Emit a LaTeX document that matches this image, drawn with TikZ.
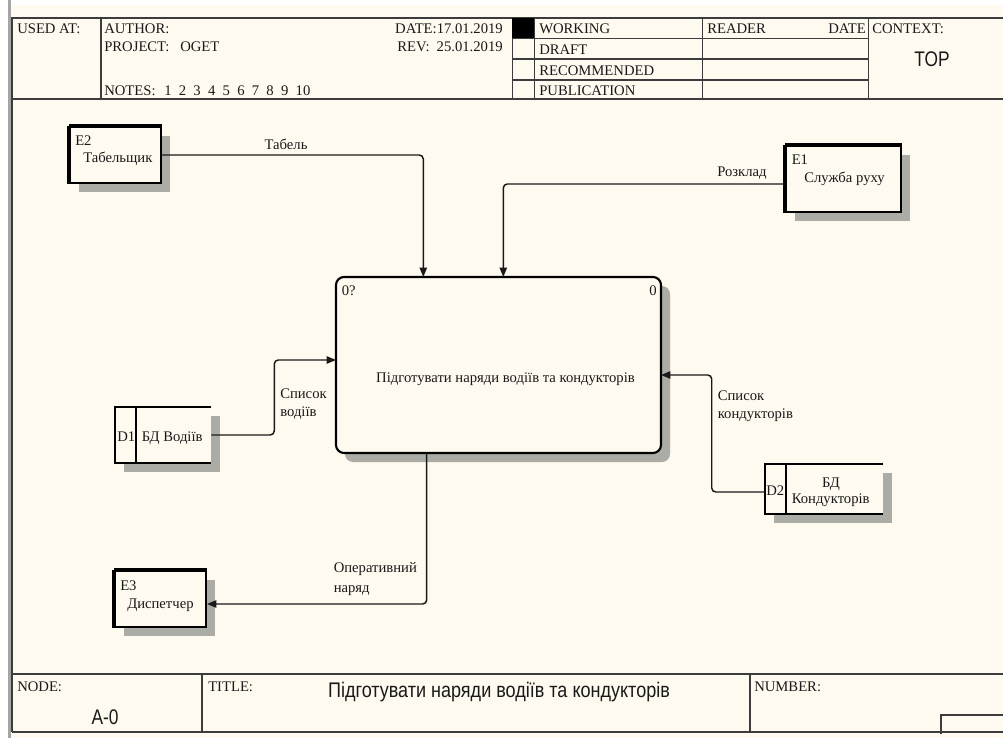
\documentclass[tikz,border=0pt]{standalone}
\usepackage{fontspec}
\setmainfont{Liberation Serif}
\setsansfont{Liberation Sans}
\usetikzlibrary{arrows.meta,calc,shadows}

\definecolor{paper}{RGB}{255,250,239}
\definecolor{rule}{RGB}{60,60,60}
\definecolor{ink}{RGB}{25,25,25}
\definecolor{shade}{RGB}{172,172,166}
\definecolor{winedge}{RGB}{165,165,165}

\newcommand{\tallsans}[2][1]{\scalebox{#1}[1.22]{#2}}

\begin{document}
\begin{tikzpicture}[x=0.75pt,y=-0.75pt,
  txt/.style={inner sep=0pt, text=ink, font=\fontsize{11pt}{13pt}\selectfont},
  lbl/.style={txt, anchor=base west},
  big/.style={inner sep=0pt, text=ink, anchor=base, font=\sffamily\fontsize{13pt}{15pt}\selectfont},
  frame/.style={draw=rule, line width=1.5pt},
  grid/.style={draw=rule, line width=1.1pt},
  hatch/.style={drop shadow={shadow xshift=6.75pt, shadow yshift=-6.75pt, fill=shade, opacity=1}},
  ebox/.style={draw=black, line width=1.5pt, fill=paper, inner sep=0pt, hatch},
  actbox/.style={draw=black, line width=1.6pt, fill=paper, inner sep=0pt, rounded corners=6pt, hatch},
  store/.style={draw=none, fill=paper, inner sep=0pt, hatch},
  storeline/.style={draw=black, line width=1.5pt},
  flow/.style={draw=ink, line width=1.1pt, rounded corners=3pt, -{Triangle[length=7pt,width=5.5pt]}},
]
\useasboundingbox (0,0) rectangle (1003,738);

% sheet and window edge
\fill[paper] (0,0) rectangle (1003,738);
\fill[white] (0,0) rectangle (8,738);
\fill[white] (8,0) rectangle (1003,5);
\fill[winedge] (8,0) rectangle (10.5,738);

% ---------- header block ----------
\draw[frame] (11.5,732) -- (11.5,17.7) -- (1003,17.7);
\draw[frame] (11.5,99.3) -- (1003,99.3);
\draw[grid] (101,17.7) -- (101,99.3);
\foreach \cx in {512.3,534.3,702.3,868.3} \draw[grid] (\cx,17.7) -- (\cx,99.3);
\foreach \cy in {38.3,59,80} \draw[grid] (512.3,\cy) -- (868.3,\cy);
\fill[black] (512.3,17.7) rectangle (534.3,38.3);

\node[lbl] (usedat) at (17,34) {USED AT:};
\node[lbl] (author) at (104,34) {AUTHOR:};
\node[lbl] (project) at (104,52) {PROJECT:};
\node[lbl] (projname) at (180,52) {OGET};
\node[lbl] (notes) at (104,96) {NOTES:};
\foreach \i in {1,...,10}
  \node[lbl] (note\i) at ({164+14.6*(\i-1)},96) {\i};
\node[txt, anchor=base east] (date) at (503,34) {DATE:17.01.2019};
\node[lbl] (rev) at (397,52) {REV:};
\node[txt, anchor=base east] (revdate) at (503,52) {25.01.2019};
\node[lbl] (working) at (539,34) {WORKING};
\node[lbl] (draft) at (539,55) {DRAFT};
\node[lbl] (recommended) at (539,76) {RECOMMENDED};
\node[lbl] (publication) at (539,96) {PUBLICATION};
\node[lbl] (reader) at (707,34) {READER};
\node[txt, anchor=base east] (rdate) at (866,34) {DATE};
\node[lbl] (context) at (872,34) {CONTEXT:};
\node[big] (top) at (932,67) {\tallsans{TOP}};

% ---------- footer block ----------
\draw[frame] (11.5,673.7) -- (1003,673.7);
\draw[frame] (11.5,731.7) -- (1003,731.7);
\draw[grid] (202,673.7) -- (202,731.7);
\draw[grid] (750,673.7) -- (750,731.7);
\draw[grid] (941,734) -- (941,715) -- (1003,715);

\node[lbl] (nodelbl) at (17,691) {NODE:};
\node[big] (nodeno) at (105,724) {\tallsans{A-0}};
\node[lbl] (titlelbl) at (208,691) {TITLE:};
\node[big] (title) at (499,697) {\tallsans[1.04]{Підготувати наряди водіїв та кондукторів}};
\node[lbl] (numberlbl) at (754,691) {NUMBER:};

% ---------- activity ----------
\node[actbox, minimum width=243.75pt, minimum height=132pt] (main) at (498.5,365) {};
\node[lbl] (mainid) at (341.5,295) {0?};
\node[txt, anchor=base east] (mainno) at (657,295) {0};
\node[txt, anchor=base] (maintext) at (505.5,382) {Підготувати наряди водіїв та кондукторів};

% ---------- external entities ----------
\node[ebox, minimum width=68.25pt, minimum height=42pt] (e2) at (115.5,155) {};
\draw[line width=3.2pt] (e2.south west) -- (e2.north west);
\draw[line width=2.4pt] (e2.north west) -- (e2.north east);
\node[lbl] (e2id) at (75,146) {E2};
\node[lbl] (e2name) at (83,163) {Табельщик};

\node[ebox, minimum width=86.25pt, minimum height=49.5pt] (e1) at (843.5,179) {};
\draw[line width=3.6pt] (e1.south west) -- (e1.north west);
\draw[line width=2.4pt] (e1.north west) -- (e1.north east);
\node[lbl] (e1id) at (791.5,165) {E1};
\node[lbl] (e1name) at (804,183) {Служба руху};

\node[ebox, minimum width=68.25pt, minimum height=42pt] (e3) at (160.5,599) {};
\draw[line width=3.2pt] (e3.south west) -- (e3.north west);
\draw[line width=2.4pt] (e3.north west) -- (e3.north east);
\node[lbl] (e3id) at (120,590) {E3};
\node[lbl] (e3name) at (127,608) {Диспетчер};

% ---------- data stores ----------
\node[store, minimum width=72pt, minimum height=42pt] (d1) at (163,435) {};
\draw[storeline] (d1.north east) -- (d1.north west) -- (d1.south west) -- (d1.south east);
\draw[storeline] ($(d1.north west)+(21,0)$) -- ($(d1.south west)+(21,0)$);
\node[lbl] (d1id) at (117,441) {D1};
\node[lbl] (d1name) at (141.5,441) {БД Водіїв};

\node[store, minimum width=88.5pt, minimum height=37.5pt] (d2) at (824,489) {};
\draw[storeline] (d2.north east) -- (d2.north west) -- (d2.south west) -- (d2.south east);
\draw[storeline] ($(d2.north west)+(21,0)$) -- ($(d2.south west)+(21,0)$);
\node[lbl] (d2id) at (766,495) {D2};
\node[txt, anchor=base] (d2name1) at (831,487) {БД};
\node[lbl] (d2name2) at (791.5,503.5) {Кондукторів};

% ---------- connection points on the activity ----------
\coordinate (inTab) at (423.3,277);
\coordinate (inRoz) at (503.3,277);
\coordinate (inLeft) at (336,360);
\coordinate (inRight) at (661,375);
\coordinate (outBot) at (426.7,453);

% ---------- flows ----------
\draw[flow] (e2.east) -| (inTab);
\node[txt, anchor=base] (lTab) at (286,150) {Табель};

\draw[flow] ([yshift=-3.75pt]e1.west) -| (inRoz);
\node[lbl] (lRoz) at (717,176) {Розклад};

\draw[flow] (d1.east) -- ++(63,0) |- (inLeft);
\node[lbl] (lVod1) at (280,398) {Список};
\node[lbl] (lVod2) at (280,416.5) {водіїв};

\draw[flow] ([yshift=-2.25pt]d2.west) -- ++(-53,0) |- (inRight);
\node[lbl] (lKon1) at (717.5,400) {Список};
\node[lbl] (lKon2) at (717.5,418.5) {кондукторів};

\draw[flow] (outBot) |- ([yshift=-3.75pt]e3.east);
\node[lbl] (lOp1) at (333.5,572) {Оперативний};
\node[lbl] (lOp2) at (333.5,592) {наряд};
\end{tikzpicture}
\end{document}
